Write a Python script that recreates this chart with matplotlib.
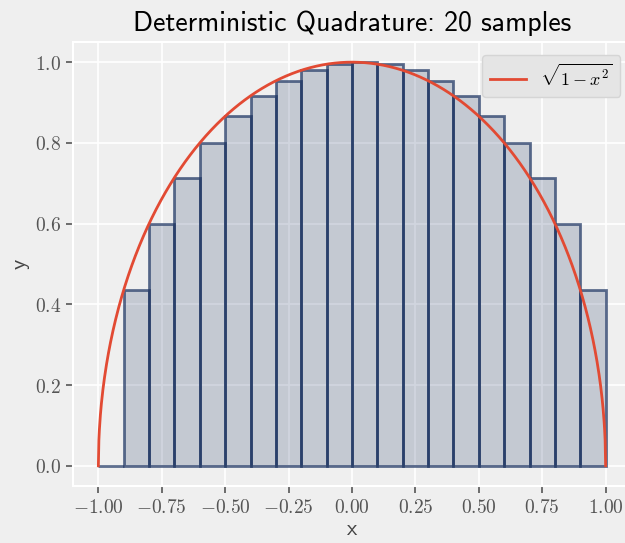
import numpy as np
import matplotlib
matplotlib.use("Agg")
import matplotlib.pyplot as plt
from matplotlib.ticker import FuncFormatter

# --- DATA ---
left_edges = [-1.0, -0.9, -0.8, -0.7, -0.6, -0.5, -0.4, -0.3, -0.2, -0.1,
              0.0, 0.1, 0.2, 0.3, 0.4, 0.5, 0.6, 0.7, 0.8, 0.9]
heights = [0.0, 0.436, 0.600, 0.714, 0.800, 0.866, 0.917, 0.954, 0.980, 0.995,
           1.000, 0.995, 0.980, 0.954, 0.917, 0.866, 0.800, 0.714, 0.600, 0.436]
bar_width = 0.1
x_ticks = [-1.0, -0.75, -0.5, -0.25, 0.0, 0.25, 0.5, 0.75, 1.0]
y_ticks = [0.0, 0.2, 0.4, 0.6, 0.8, 1.0]
title = "Deterministic Quadrature: 20 samples"

# the plotted function itself (legend label defines it)
xs = np.linspace(-1, 1, 1001)
ys = np.sqrt(1 - xs**2)

BG = "#efefef"
RED = "#E24A33"

plt.rcParams["mathtext.fontset"] = "cm"

fig = plt.figure(figsize=(6.25, 5.43), dpi=100, facecolor=BG)
ax = fig.add_axes([0.1168, 0.105, 0.8928, 0.8177])
ax.set_facecolor(BG)
ax.set_axisbelow(True)
ax.grid(True, color="white", lw=1.2)
for s in ax.spines.values():
    s.set_color("white")
    s.set_linewidth(1.5)

ax.bar(left_edges, heights, width=bar_width, align="edge",
       facecolor=(0.11, 0.20, 0.38, 0.2), edgecolor=(0.11, 0.20, 0.38, 0.7), lw=2)
ax.plot(xs, ys, color=RED, lw=2, label=r"$\sqrt{1-x^2}$")

ax.set_xlim(-1.1, 1.1)
ax.set_ylim(-0.05, 1.05)
ax.set_xticks(x_ticks)
ax.set_yticks(y_ticks)
ax.xaxis.set_major_formatter(FuncFormatter(lambda v, p: "$%.2f$" % v))
ax.yaxis.set_major_formatter(FuncFormatter(lambda v, p: "$%.1f$" % v))
ax.tick_params(colors="#555555", labelsize=14, length=5, width=1.2)

ax.set_title(title, fontfamily="cmss10", fontsize=20, pad=8)
ax.set_xlabel("x", fontfamily="cmss10", fontsize=16, color="#444444", labelpad=2)
ax.set_ylabel("y", fontfamily="cmss10", fontsize=16, color="#444444")

leg = ax.legend(loc="upper right", fontsize=13, facecolor="#e5e5e5",
                edgecolor="#d5d5d5", framealpha=1, bbox_to_anchor=(0.997, 0.99))

fig.savefig("out.png", dpi=100, facecolor=BG)
